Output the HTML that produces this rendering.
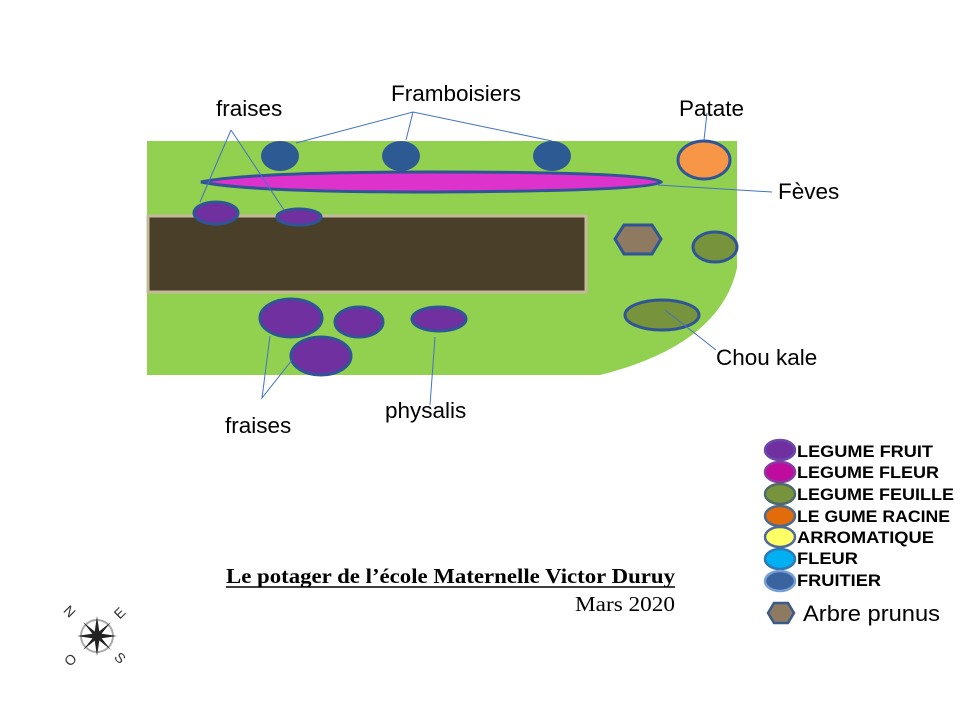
<!DOCTYPE html>
<html><head><meta charset="utf-8"><style>
html,body{margin:0;padding:0;background:#fff;}
svg{display:block;}
.s{font-family:"Liberation Sans",sans-serif;}
.r{font-family:"Liberation Serif",serif;}
</style></head><body>
<svg width="960" height="720" viewBox="0 0 960 720" xmlns="http://www.w3.org/2000/svg">
<path d="M147,141 H737 V268 Q720,345 600,375 H147 Z" fill="#92d050"/>
<rect x="148" y="216" width="438" height="76" fill="#4a4029" stroke="#c4b99a" stroke-width="3"/>
<g stroke="#2f5597" stroke-width="3">
<ellipse cx="280" cy="156" rx="19" ry="15" fill="#2e5a94" stroke="none"/>
<ellipse cx="401" cy="156" rx="19" ry="15" fill="#2e5a94" stroke="none"/>
<ellipse cx="552" cy="156" rx="19" ry="15" fill="#2e5a94" stroke="none"/>
<ellipse cx="704" cy="160" rx="26" ry="19" fill="#f79646"/>
<path d="M201,182 Q250,172 430,172 Q650,172 661,182 Q650,191 430,192 Q250,192 201,182 Z" fill="#dd33cc"/>
<ellipse cx="216" cy="213" rx="22" ry="11" fill="#7030a0"/>
<ellipse cx="299" cy="217" rx="22" ry="8" fill="#7030a0"/>
<polygon points="615,239 624,225 652,225 661,239 652,254 624,254" fill="#8d7a61"/>
<ellipse cx="715" cy="247" rx="22" ry="15" fill="#77933c"/>
<ellipse cx="662" cy="315" rx="37" ry="15" fill="#77933c"/>
<ellipse cx="291" cy="318" rx="31" ry="19" fill="#7030a0"/>
<ellipse cx="359" cy="322" rx="24" ry="15" fill="#7030a0"/>
<ellipse cx="321" cy="356" rx="30" ry="19" fill="#7030a0"/>
<ellipse cx="439" cy="319" rx="27" ry="12" fill="#7030a0"/>
</g>
<g stroke="#4472c4" stroke-width="1" fill="none">
<path d="M296,143 L413,112 L552,141 M413,112 L406,140"/>
<path d="M231,130 L200,202 M231,130 L284,210"/>
<path d="M704,140 L707,113"/>
<path d="M658,185 L772,192"/>
<path d="M665,310 L716,350"/>
<path d="M270,336 L262,398 L292,360"/>
<path d="M435,337 L430,405"/>
</g>
<g class="s" font-size="22.5" fill="#000">
<text x="216" y="116">fraises</text>
<text x="391" y="101">Framboisiers</text>
<text x="679" y="116">Patate</text>
<text x="778" y="199">Fèves</text>
<text x="716" y="365">Chou kale</text>
<text x="225" y="433">fraises</text>
<text x="385" y="418">physalis</text>
</g>
<g class="r" fill="#000">
<text class="r" x="226" y="583" font-size="21" font-weight="bold" textLength="449" lengthAdjust="spacingAndGlyphs">Le potager de l’école  Maternelle Victor Duruy</text>
<line x1="226" y1="587" x2="675" y2="587" stroke="#000" stroke-width="1.5"/>
<text class="r" x="575" y="611" font-size="21" textLength="100" lengthAdjust="spacingAndGlyphs">Mars 2020</text>
</g>
<g stroke-width="2.5">
<ellipse cx="780" cy="450" rx="15" ry="10" fill="#7030a0" stroke="#6a4aa8"/>
<ellipse cx="780" cy="472" rx="15" ry="10" fill="#c00c9e" stroke="#8a3aa0"/>
<ellipse cx="780" cy="494" rx="15" ry="10" fill="#77933c" stroke="#4f6a6a"/>
<ellipse cx="780" cy="516" rx="15" ry="10" fill="#e36c0a" stroke="#4f6a8a"/>
<ellipse cx="780" cy="537" rx="15" ry="10" fill="#ffff66" stroke="#4f6a9a"/>
<ellipse cx="780" cy="559" rx="15" ry="10" fill="#00b0f0" stroke="#2f77b7"/>
<ellipse cx="780" cy="581" rx="15" ry="10" fill="#3a64a0" stroke="#7aa0d8"/>
<polygon points="768,613 774,603 788,603 794,613 788,623 774,623" fill="#8d7a61" stroke="#3a5a8a"/>
</g>
<g class="s" font-size="17" font-weight="bold" fill="#000">
<text x="797" y="457" textLength="136" lengthAdjust="spacingAndGlyphs">LEGUME FRUIT</text>
<text x="797" y="478" textLength="142" lengthAdjust="spacingAndGlyphs">LEGUME FLEUR</text>
<text x="797" y="500" textLength="157" lengthAdjust="spacingAndGlyphs">LEGUME FEUILLE</text>
<text x="797" y="522" textLength="153" lengthAdjust="spacingAndGlyphs">LE GUME RACINE</text>
<text x="797" y="543" textLength="137" lengthAdjust="spacingAndGlyphs">ARROMATIQUE</text>
<text x="797" y="564" textLength="61" lengthAdjust="spacingAndGlyphs">FLEUR</text>
<text x="797" y="586" textLength="84" lengthAdjust="spacingAndGlyphs">FRUITIER</text>
</g>
<text class="s" x="803" y="621" font-size="22" textLength="137" lengthAdjust="spacingAndGlyphs">Arbre prunus</text>
<g transform="translate(97,636)">
<circle r="16" fill="none" stroke="#aaa" stroke-width="2"/>
<g fill="#222">
<polygon points="0,-20 3,0 0,20 -3,0"/>
<polygon points="-20,0 0,-3 20,0 0,3"/>
<polygon points="-14,-14 2,-1 14,14 -2,1"/>
<polygon points="14,-14 1,2 -14,14 -1,-2"/>
</g>
<g class="s" font-size="14" fill="#333">
<text class="s" x="-33" y="-20" transform="rotate(45 -28 -24)">N</text>
<text class="s" x="17" y="-18" transform="rotate(-45 22 -24)">E</text>
<text class="s" x="18" y="26" transform="rotate(45 22 22)">S</text>
<text class="s" x="-32" y="29" transform="rotate(-45 -27 24)">O</text>
</g>
</g>
</svg>
</body></html>
